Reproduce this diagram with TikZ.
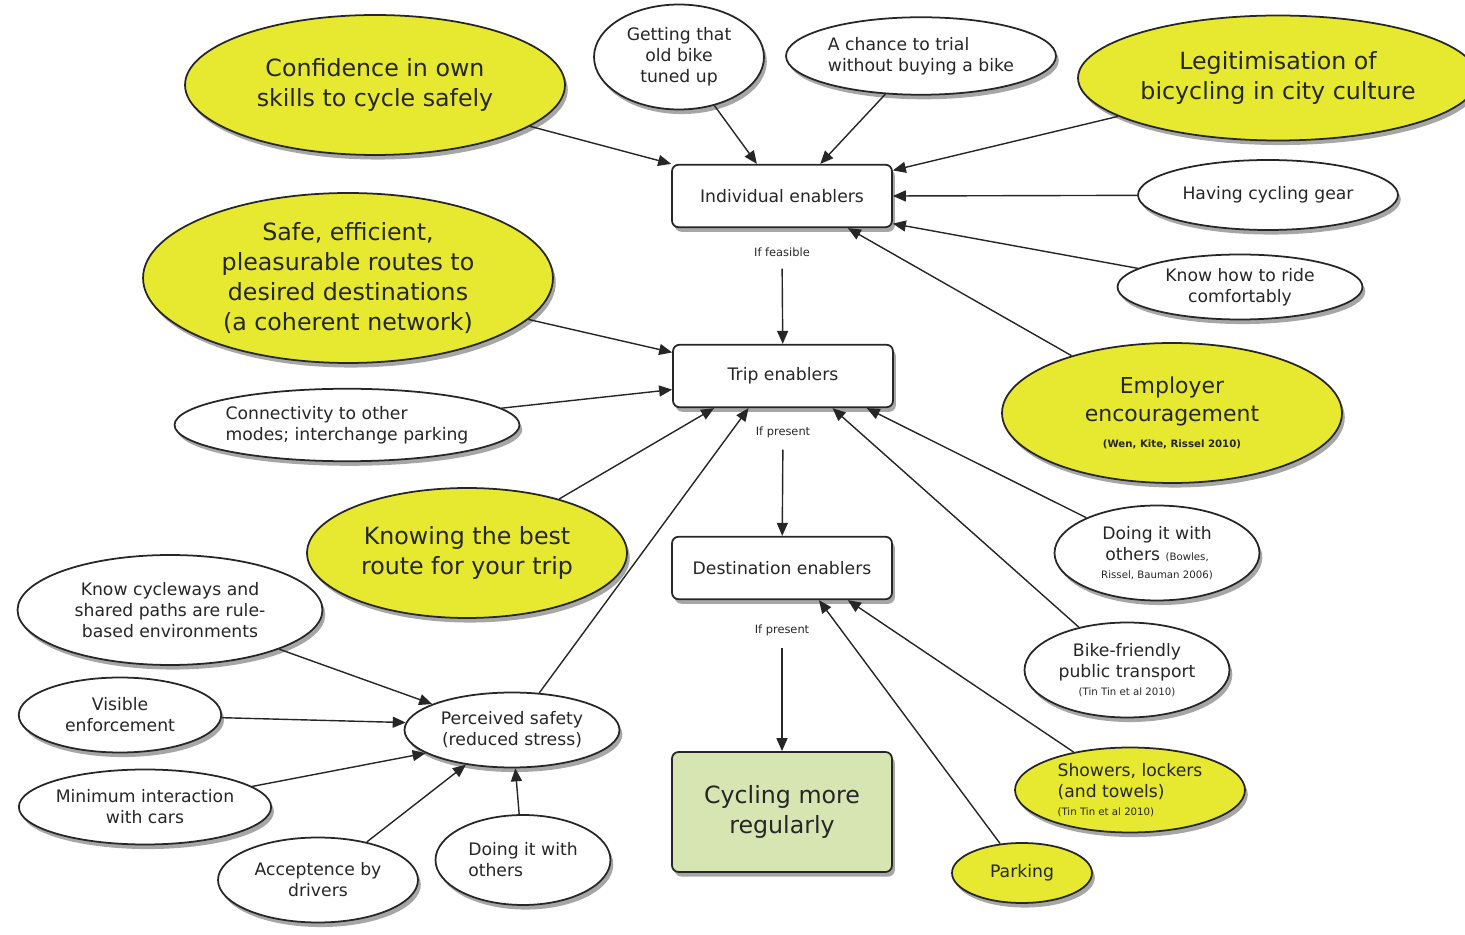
\documentclass[tikz,border=0pt]{standalone}
\usepackage{fontspec}
\setmainfont{DejaVu Sans}
\usepackage{tikz}
\usetikzlibrary{shapes.geometric,shadows,arrows.meta}
\definecolor{bikeyellow}{RGB}{231,233,48}
\definecolor{bikegreen}{RGB}{215,229,178}
\colorlet{inkgrey}{black!85}
\newcommand{\bigtxt}{\fontsize{13.5}{17}\selectfont}
\newcommand{\medtxt}{\fontsize{9.8}{12}\selectfont}
\newcommand{\srcfont}{\fontsize{5.8}{7}\selectfont}
\newcommand{\condtxt}{\fontsize{6.5}{8}\selectfont}

\begin{document}
\begin{tikzpicture}[x=0.02cm,y=-0.02cm,
    shade/.style={drop shadow={shadow xshift=1.6pt,shadow yshift=-2.6pt,opacity=0.35,fill=black}},
    oval/.style={ellipse,draw=inkgrey,line width=1pt,inner sep=0pt,align=center,text=inkgrey,shade},
    yel/.style={oval,fill=bikeyellow,font=\bigtxt},
    wht/.style={oval,fill=white,font=\medtxt},
    stage/.style={rectangle,rounded corners=1.3mm,draw=inkgrey,line width=1pt,fill=white,
        minimum width=44mm,minimum height=12.5mm,font=\medtxt,text=inkgrey,shade},
    cond/.style={font=\condtxt,text=inkgrey,inner sep=1pt},
    arr/.style={-{Triangle[length=2.6mm,width=2.2mm]},line width=0.8pt,inkgrey}]
    \useasboundingbox (0,0) rectangle (1465,935);

    % the four stages
    \node[stage] (ind) at (782,196) {Individual enablers};
    \node[stage] (trip) at (783,376) {Trip enablers};
    \node[stage] (dest) at (782,568) {Destination enablers};
    \node[stage,fill=bikegreen,minimum height=24mm,font=\fontsize{13.5}{17}\selectfont,align=center]
        (cycmore) at (782,812) {Cycling more\\regularly};
    \node[cond] (feas) at (782,252) {If feasible};
    \node[cond] (pres1) at (783,432) {If present};
    \node[cond] (pres2) at (782,630) {If present};

    % individual enablers
    \node[yel,minimum width=76mm,minimum height=28mm] (conf) at (375,85) {Confidence in own\\skills to cycle safely};
    \node[wht,minimum width=34mm,minimum height=21mm] (tuneup) at (679,57) {Getting that\\old bike\\tuned up};
    \node[wht,minimum width=54mm,minimum height=15.5mm,align=left] (trial) at (921,56) {A chance to trial\\without buying a bike};
    \node[yel,minimum width=80mm,minimum height=25mm] (legit) at (1278,78) {Legitimisation of\\bicycling in city culture};
    \node[wht,minimum width=52mm,minimum height=14mm] (gear) at (1268,195) {Having cycling gear};
    \node[wht,minimum width=49mm,minimum height=13mm] (ride) at (1240,287) {Know how to ride\\comfortably};
    \node[yel,minimum width=68mm,minimum height=28mm,font=\fontsize{12.5}{16}\selectfont] (employer) at (1172,413)
        {Employer\\encouragement\\[-1pt]{\srcfont\bfseries (Wen, Kite, Rissel 2010)}};

    % trip enablers
    \node[yel,minimum width=82mm,minimum height=34mm] (routes) at (348,278)
        {Safe, efficient,\\pleasurable routes to\\desired destinations\\(a coherent network)};
    \node[wht,minimum width=69mm,minimum height=14.5mm,align=left] (connect) at (347,425)
        {Connectivity to other\\modes; interchange parking};
    \node[yel,minimum width=64mm,minimum height=26mm] (bestroute) at (467,553) {Knowing the best\\route for your trip};
    \node[wht,minimum width=41mm,minimum height=19mm] (social) at (1157,553)
        {Doing it with\\others {\srcfont (Bowles,}\\[-2pt]{\srcfont Rissel, Bauman 2006)}};
    \node[wht,minimum width=41mm,minimum height=19mm] (bikept) at (1127,670)
        {Bike-friendly\\public transport\\[-2pt]{\srcfont (Tin Tin et al 2010)}};

    % destination enablers
    \node[oval,fill=bikeyellow,font=\medtxt,align=left,minimum width=46mm,minimum height=17mm] (showers) at (1130,790)
        {Showers, lockers\\(and towels)\\[-2pt]{\srcfont (Tin Tin et al 2010)}};
    \node[oval,fill=bikeyellow,font=\medtxt,minimum width=28mm,minimum height=12mm] (parking) at (1022,873) {Parking};

    % perceived safety
    \node[wht,minimum width=43mm,minimum height=15mm] (perc) at (512,730) {Perceived safety\\(reduced stress)};
    \node[wht,minimum width=61mm,minimum height=22mm] (cycleways) at (170,610)
        {Know cycleways and\\shared paths are rule-\\based environments};
    \node[wht,minimum width=40.5mm,minimum height=15mm] (visible) at (120,715) {Visible\\enforcement};
    \node[wht,minimum width=48.5mm,minimum height=15mm] (mininter) at (145,807) {Minimum interaction\\with cars};
    \node[wht,minimum width=40mm,minimum height=17mm] (accept) at (318,880) {Acceptence by\\drivers};
    \node[wht,minimum width=35mm,minimum height=18mm,align=left] (together) at (523,860) {Doing it with\\others};

    \foreach \a/\b in {conf/ind.north west, tuneup/ind.128, trial/ind.40, legit/ind.13,
        gear/ind.east, ride/ind.-14, employer/ind.-26,
        routes/trip.168, connect/trip.187, bestroute/trip.-155, perc/trip.-137,
        social/trip.-21, bikept/trip.-33,
        showers/dest.-26, parking/dest.-41,
        cycleways/perc.162, visible/perc.176, mininter/perc.195, accept/perc.-143, together/perc.-85}{
        \draw[arr] (\a) -- (\b);
    }
    \foreach \a/\b in {feas/trip, pres1/dest, pres2/cycmore}{
        \draw[arr,shorten <=2mm] (\a) -- (\b);
    }
\end{tikzpicture}
\end{document}
